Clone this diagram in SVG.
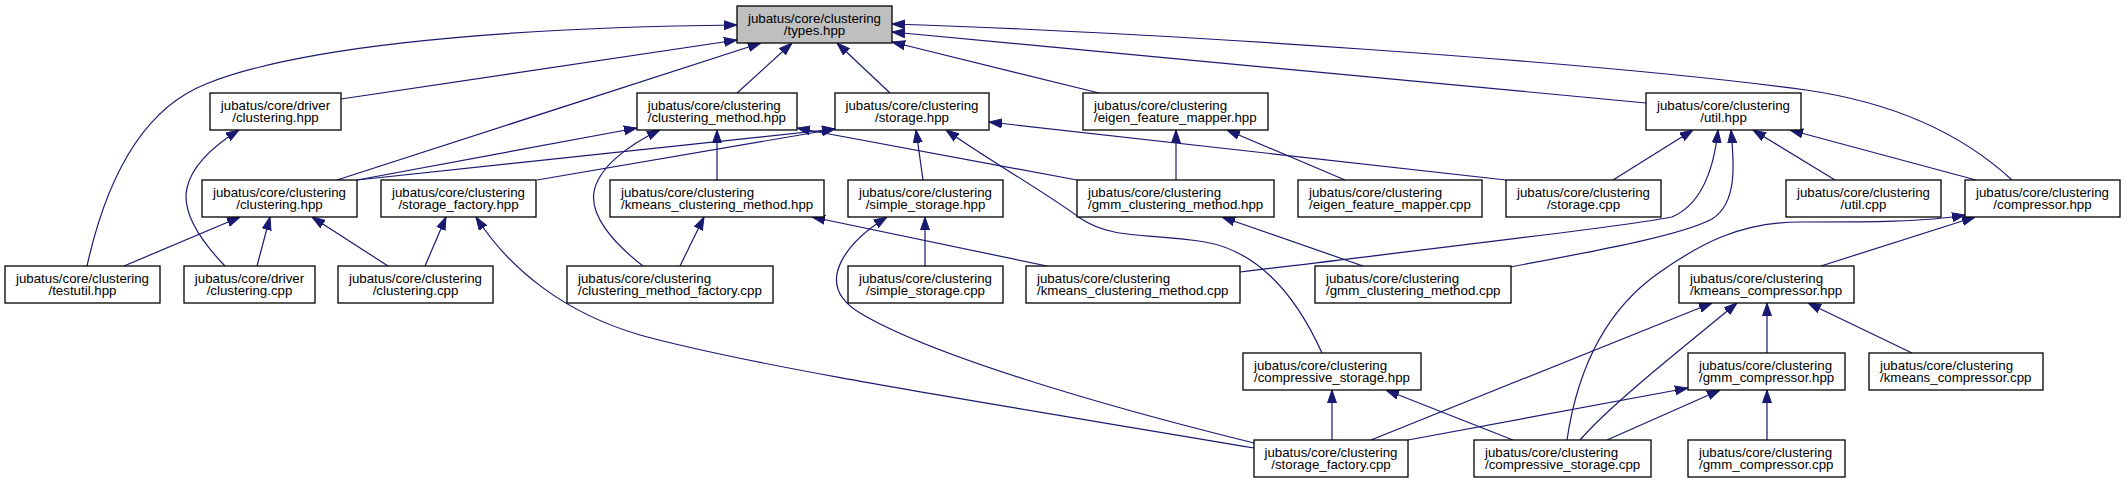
<svg xmlns="http://www.w3.org/2000/svg" width="2125" height="483" viewBox="0 0 2125 483">
<defs>
<style>
.n rect{fill:#ffffff;stroke:#000000;stroke-width:1.3}
#types rect{fill:#bfbfbf}
.n text{font-family:"Liberation Sans",Arial,Helvetica,sans-serif;font-size:13.3px;fill:#000000}
.m{text-anchor:middle}
.c path{fill:none;stroke:#191970;stroke-width:1.2;marker-end:url(#ah)}
</style>
<marker id="ah" viewBox="0 0 13 10" refX="13" refY="5" markerWidth="13" markerHeight="10" markerUnits="userSpaceOnUse" orient="auto">
<polygon points="0,0.5 13,5 0,9.5" fill="#191970" stroke="#191970" stroke-width="1"/>
</marker>
</defs>
<rect width="2125" height="483" fill="#ffffff"/>
<g class="c" id="connectors">
<path d="M87,266 C105,185 140,110 206,84 C290,50 470,28 737,25"/>
<path d="M341,99 L737,40"/>
<path d="M337,180 L761,43"/>
<path d="M737,93 L792,43"/>
<path d="M890,93 L837,43"/>
<path d="M1099,93 L892,42"/>
<path d="M1646,103 L892,32"/>
<path d="M2012,180 C1960,132 1890,102 1806,90 C1600,62 1150,32 892,24"/>
<path d="M225,266 C198,238 182,210 187,188 C192,165 215,145 239,130"/>
<path d="M124,266 L240,217"/>
<path d="M257,266 L270,217"/>
<path d="M388,266 L312,217"/>
<path d="M425,266 L446,217"/>
<path d="M1254,448 C1000,405 760,368 640,335 C565,313 510,270 476,217"/>
<path d="M357,180 L637,128"/>
<path d="M643,266 C612,242 590,215 594,192 C598,168 628,145 660,130"/>
<path d="M717,180 L717,130"/>
<path d="M1077,180 L797,128"/>
<path d="M357,180 L835,129"/>
<path d="M537,180 L835,129"/>
<path d="M923,180 L916,130"/>
<path d="M1322,353 C1298,300 1262,252 1205,242 C1150,233 1112,240 1080,218 C1042,190 985,158 946,130"/>
<path d="M1506,180 L989,122"/>
<path d="M1176,180 L1176,130"/>
<path d="M1345,180 L1227,130"/>
<path d="M1613,180 L1693,130"/>
<path d="M1240,272 C1420,250 1630,226 1672,217 C1702,204 1714,168 1718,130"/>
<path d="M1510,267 C1590,252 1680,236 1712,219 C1738,203 1734,162 1731,130"/>
<path d="M1835,180 L1753,130"/>
<path d="M1976,180 L1790,130"/>
<path d="M1821,266 L1975,217"/>
<path d="M1567,440 C1578,365 1608,308 1660,272 C1700,244 1740,222 1800,222 C1870,222 1925,222 1965,215"/>
<path d="M1371,440 L1712,303"/>
<path d="M1580,440 C1610,405 1680,350 1737,303"/>
<path d="M1767,353 L1767,303"/>
<path d="M1912,353 L1808,303"/>
<path d="M1408,440 L1688,388"/>
<path d="M1607,440 L1720,390"/>
<path d="M1767,440 L1767,390"/>
<path d="M1332,440 L1332,390"/>
<path d="M1513,440 L1386,390"/>
<path d="M1254,443 C1100,405 930,355 860,313 C810,283 850,240 887,217"/>
<path d="M1047,266 L812,217"/>
<path d="M680,266 L704,217"/>
<path d="M925,266 L925,217"/>
<path d="M1363,266 L1222,217"/>
</g>
<g class="n" id="types"><rect x="737" y="6" width="155" height="37"/><text class="m" x="814.5" y="22.5">jubatus/core/clustering</text><text class="m" x="814.5" y="35.3">/types.hpp</text></g>
<g class="n" id="driver_clustering_hpp"><rect x="210" y="93" width="131" height="37"/><text class="m" x="275.5" y="109.5">jubatus/core/driver</text><text class="m" x="275.5" y="122.3">/clustering.hpp</text></g>
<g class="n" id="clustering_method_hpp"><rect x="637" y="93" width="160" height="37"/><text x="647.7" y="109.5">jubatus/core/clustering</text><text x="647.7" y="122.3">/clustering_method.hpp</text></g>
<g class="n" id="storage_hpp"><rect x="835" y="93" width="154" height="37"/><text class="m" x="912" y="109.5">jubatus/core/clustering</text><text class="m" x="912" y="122.3">/storage.hpp</text></g>
<g class="n" id="eigen_feature_mapper_hpp"><rect x="1083" y="93" width="185" height="37"/><text x="1094" y="109.5">jubatus/core/clustering</text><text x="1094" y="122.3">/eigen_feature_mapper.hpp</text></g>
<g class="n" id="util_hpp"><rect x="1646" y="93" width="155" height="37"/><text class="m" x="1723.5" y="109.5">jubatus/core/clustering</text><text class="m" x="1723.5" y="122.3">/util.hpp</text></g>
<g class="n" id="clustering_hpp"><rect x="202" y="180" width="155" height="37"/><text class="m" x="279.5" y="196.5">jubatus/core/clustering</text><text class="m" x="279.5" y="209.3">/clustering.hpp</text></g>
<g class="n" id="storage_factory_hpp"><rect x="381" y="180" width="155" height="37"/><text class="m" x="458.5" y="196.5">jubatus/core/clustering</text><text class="m" x="458.5" y="209.3">/storage_factory.hpp</text></g>
<g class="n" id="kmeans_clustering_method_hpp"><rect x="610" y="180" width="214" height="37"/><text x="621" y="196.5">jubatus/core/clustering</text><text x="621" y="209.3">/kmeans_clustering_method.hpp</text></g>
<g class="n" id="simple_storage_hpp"><rect x="848" y="180" width="155" height="37"/><text class="m" x="925.5" y="196.5">jubatus/core/clustering</text><text class="m" x="925.5" y="209.3">/simple_storage.hpp</text></g>
<g class="n" id="gmm_clustering_method_hpp"><rect x="1077" y="180" width="197" height="37"/><text x="1088" y="196.5">jubatus/core/clustering</text><text x="1088" y="209.3">/gmm_clustering_method.hpp</text></g>
<g class="n" id="eigen_feature_mapper_cpp"><rect x="1298" y="180" width="184" height="37"/><text x="1309" y="196.5">jubatus/core/clustering</text><text x="1309" y="209.3">/eigen_feature_mapper.cpp</text></g>
<g class="n" id="storage_cpp"><rect x="1506" y="180" width="155" height="37"/><text class="m" x="1583.5" y="196.5">jubatus/core/clustering</text><text class="m" x="1583.5" y="209.3">/storage.cpp</text></g>
<g class="n" id="util_cpp"><rect x="1786" y="180" width="155" height="37"/><text class="m" x="1863.5" y="196.5">jubatus/core/clustering</text><text class="m" x="1863.5" y="209.3">/util.cpp</text></g>
<g class="n" id="compressor_hpp"><rect x="1965" y="180" width="155" height="37"/><text class="m" x="2042.5" y="196.5">jubatus/core/clustering</text><text class="m" x="2042.5" y="209.3">/compressor.hpp</text></g>
<g class="n" id="testutil_hpp"><rect x="5" y="266" width="155" height="37"/><text class="m" x="82.5" y="282.5">jubatus/core/clustering</text><text class="m" x="82.5" y="295.3">/testutil.hpp</text></g>
<g class="n" id="driver_clustering_cpp"><rect x="184" y="266" width="131" height="37"/><text class="m" x="249.5" y="282.5">jubatus/core/driver</text><text class="m" x="249.5" y="295.3">/clustering.cpp</text></g>
<g class="n" id="clustering_cpp"><rect x="338" y="266" width="155" height="37"/><text class="m" x="415.5" y="282.5">jubatus/core/clustering</text><text class="m" x="415.5" y="295.3">/clustering.cpp</text></g>
<g class="n" id="clustering_method_factory_cpp"><rect x="567" y="266" width="206" height="37"/><text x="578" y="282.5">jubatus/core/clustering</text><text x="578" y="295.3">/clustering_method_factory.cpp</text></g>
<g class="n" id="simple_storage_cpp"><rect x="848" y="266" width="155" height="37"/><text class="m" x="925.5" y="282.5">jubatus/core/clustering</text><text class="m" x="925.5" y="295.3">/simple_storage.cpp</text></g>
<g class="n" id="kmeans_clustering_method_cpp"><rect x="1026" y="266" width="214" height="37"/><text x="1037" y="282.5">jubatus/core/clustering</text><text x="1037" y="295.3">/kmeans_clustering_method.cpp</text></g>
<g class="n" id="gmm_clustering_method_cpp"><rect x="1315" y="266" width="196" height="37"/><text x="1326" y="282.5">jubatus/core/clustering</text><text x="1326" y="295.3">/gmm_clustering_method.cpp</text></g>
<g class="n" id="kmeans_compressor_hpp"><rect x="1679" y="266" width="175" height="37"/><text x="1690" y="282.5">jubatus/core/clustering</text><text x="1690" y="295.3">/kmeans_compressor.hpp</text></g>
<g class="n" id="compressive_storage_hpp"><rect x="1243" y="353" width="178" height="37"/><text x="1254" y="369.5">jubatus/core/clustering</text><text x="1254" y="382.3">/compressive_storage.hpp</text></g>
<g class="n" id="gmm_compressor_hpp"><rect x="1688" y="353" width="157" height="37"/><text x="1699" y="369.5">jubatus/core/clustering</text><text x="1699" y="382.3">/gmm_compressor.hpp</text></g>
<g class="n" id="kmeans_compressor_cpp"><rect x="1869" y="353" width="174" height="37"/><text x="1880" y="369.5">jubatus/core/clustering</text><text x="1880" y="382.3">/kmeans_compressor.cpp</text></g>
<g class="n" id="storage_factory_cpp"><rect x="1254" y="440" width="154" height="37"/><text class="m" x="1331" y="456.5">jubatus/core/clustering</text><text class="m" x="1331" y="469.3">/storage_factory.cpp</text></g>
<g class="n" id="compressive_storage_cpp"><rect x="1474" y="440" width="177" height="37"/><text x="1485" y="456.5">jubatus/core/clustering</text><text x="1485" y="469.3">/compressive_storage.cpp</text></g>
<g class="n" id="gmm_compressor_cpp"><rect x="1688" y="440" width="157" height="37"/><text x="1699" y="456.5">jubatus/core/clustering</text><text x="1699" y="469.3">/gmm_compressor.cpp</text></g>
</svg>
